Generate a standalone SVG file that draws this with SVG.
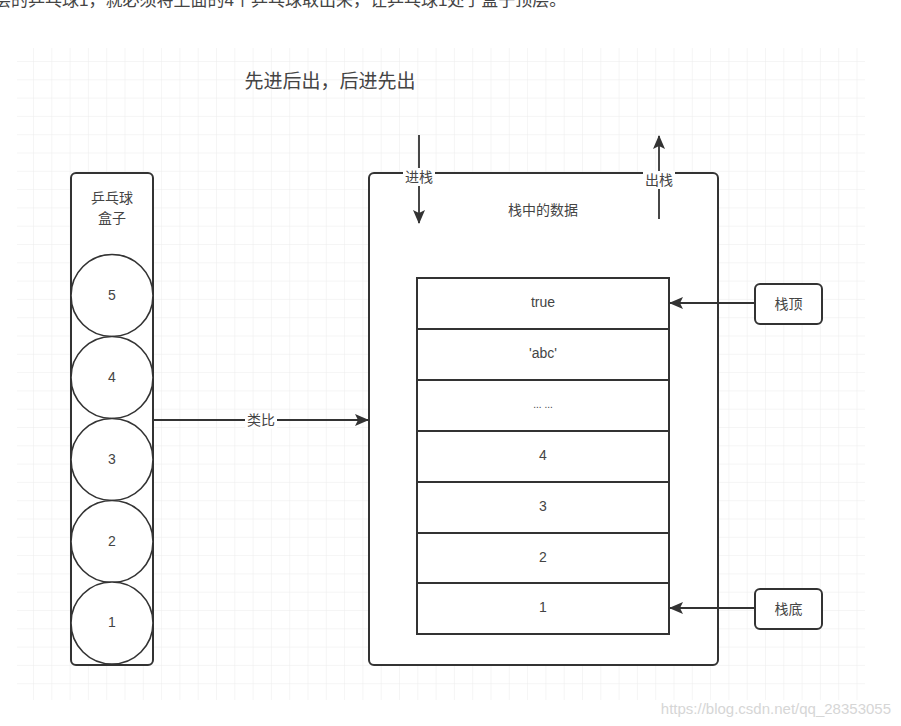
<svg xmlns="http://www.w3.org/2000/svg" width="901" height="726" viewBox="0 0 901 726">
<defs>
<pattern id="grid" x="14.7" y="42.7" width="18.3" height="18.3" patternUnits="userSpaceOnUse">
<path d="M0 0H18.3M0 0V18.3" fill="none" stroke="#ebebeb" stroke-width="1"/>
</pattern>
<marker id="ahb" viewBox="0 0 14 12" refX="13" refY="6" markerWidth="14" markerHeight="12" markerUnits="userSpaceOnUse" orient="auto">
<path d="M0 0L14 6L0 12L3 6Z" fill="#333"/>
</marker>
</defs>
<style>
text{font-family:"Liberation Sans","Noto Sans CJK SC",sans-serif;fill:#444;text-anchor:middle;dominant-baseline:central}
.box{fill:#fff;stroke:#333;stroke-width:2}
.ball{fill:#fff;stroke:#333;stroke-width:1.6}
.cell{fill:#fff;stroke:#333;stroke-width:2}
.ln{stroke:#333;stroke-width:1.8;fill:none}
.lbl{fill:#fff}
.t{font-size:14px}
</style>
<rect width="901" height="726" fill="#fff"/>
<rect x="17" y="48" width="848" height="652" fill="url(#grid)"/>
<text x="0" y="0" style="text-anchor:start;font-size:17px;fill:#444;dominant-baseline:alphabetic" transform="translate(-6,6)">层的乒乓球1，就必须将上面的4个乒乓球取出来，让乒乓球1处于盒子顶层。</text>
<text x="330" y="81" style="font-size:19px">先进后出，后进先出</text>

<g id="pingpong-box">
<rect class="box" x="71" y="173" width="82" height="492" rx="5"/>
<text class="t" x="112" y="198">乒乓球</text>
<text class="t" x="112" y="218">盒子</text>
</g>
<g id="ball5"><circle class="ball" cx="112" cy="295.5" r="41"/><text class="t" x="112" y="295">5</text></g>
<g id="ball4"><circle class="ball" cx="112" cy="377.5" r="41"/><text class="t" x="112" y="377">4</text></g>
<g id="ball3"><circle class="ball" cx="112" cy="459.5" r="41"/><text class="t" x="112" y="459">3</text></g>
<g id="ball2"><circle class="ball" cx="112" cy="541.5" r="41"/><text class="t" x="112" y="541">2</text></g>
<g id="ball1"><circle class="ball" cx="112" cy="623" r="41"/><text class="t" x="112" y="622">1</text></g>

<g id="stack-box">
<rect class="box" x="369" y="173" width="349" height="492" rx="5"/>
<text class="t" x="543" y="210">栈中的数据</text>
</g>
<g id="cell-true"><rect class="cell" x="417" y="278" width="252" height="51"/><text class="t" x="543" y="302">true</text></g>
<g id="cell-abc"><rect class="cell" x="417" y="329" width="252" height="51"/><text class="t" x="543" y="353">'abc'</text></g>
<g id="cell-dots"><rect class="cell" x="417" y="380" width="252" height="51"/><text class="t" x="543" y="404" style="font-size:10px">... ...</text></g>
<g id="cell-4"><rect class="cell" x="417" y="431" width="252" height="51"/><text class="t" x="543" y="455">4</text></g>
<g id="cell-3"><rect class="cell" x="417" y="482" width="252" height="51"/><text class="t" x="543" y="506">3</text></g>
<g id="cell-2"><rect class="cell" x="417" y="533" width="252" height="50"/><text class="t" x="543" y="557">2</text></g>
<g id="cell-1"><rect class="cell" x="417" y="583" width="252" height="51"/><text class="t" x="543" y="607">1</text></g>

<g id="top-label"><rect class="box" x="755" y="284" width="67" height="40" rx="5"/><text class="t" x="788.5" y="304">栈顶</text></g>
<g id="bottom-label"><rect class="box" x="755" y="589" width="67" height="40" rx="5"/><text class="t" x="788.5" y="609">栈底</text></g>

<g id="connectors">
<line class="ln" x1="419" y1="135" x2="419" y2="223" marker-end="url(#ahb)"/>
<rect class="lbl" x="403" y="168" width="32" height="18"/>
<text class="t" x="419" y="177">进栈</text>
<line class="ln" x1="659" y1="219" x2="659" y2="136" marker-end="url(#ahb)"/>
<rect class="lbl" x="643" y="171" width="32" height="18"/>
<text class="t" x="659" y="180">出栈</text>
<line class="ln" x1="153" y1="420" x2="368" y2="420" marker-end="url(#ahb)"/>
<rect class="lbl" x="245" y="411" width="32" height="18"/>
<text class="t" x="261" y="420">类比</text>
<line class="ln" x1="754" y1="303" x2="670" y2="303" marker-end="url(#ahb)"/>
<line class="ln" x1="754" y1="608" x2="670" y2="608" marker-end="url(#ahb)"/>
</g>
<text x="891" y="708" style="text-anchor:end;font-size:15px;fill:#d6d6d6">https://blog.csdn.net/qq_28353055</text>
</svg>
